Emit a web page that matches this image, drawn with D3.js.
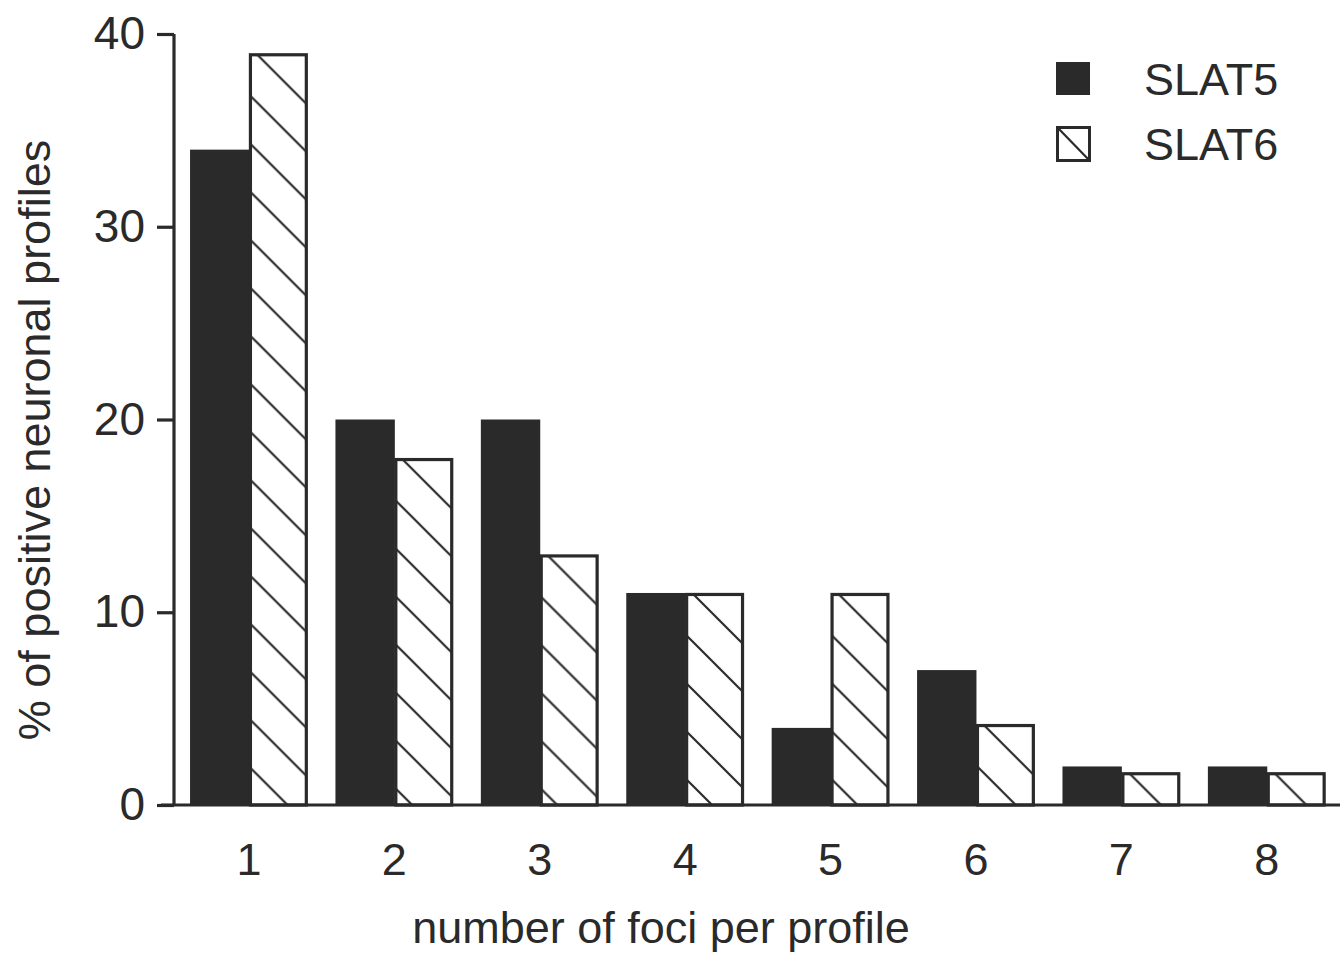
<!DOCTYPE html>
<html>
<head>
<meta charset="utf-8">
<script src="https://cdn.jsdelivr.net/npm/d3@7"></script>
<style>
body { margin: 0; background: #fff; }
text { font-family: "Liberation Sans", Arial, Helvetica, sans-serif; fill: #2a2a2a; }
</style>
</head>
<body>
<div id="chart"></div>
<script>
var categories = ["1", "2", "3", "4", "5", "6", "7", "8"];
var slat5 = [34, 20, 20, 11, 4, 7, 2, 2];
var slat6 = [39, 18, 13, 11, 11, 4.2, 1.7, 1.7];
var yTicks = [0, 10, 20, 30, 40];
var seriesNames = ["SLAT5", "SLAT6"];

var W = 1340, H = 961;
var ink = "#2a2a2a";

var svg = d3.select("#chart").append("svg")
    .attr("width", W)
    .attr("height", H);

var defs = svg.append("defs");

var x = d3.scaleBand()
    .domain(categories)
    .range([175.5, 1340.2])
    .paddingInner(0.19)
    .paddingOuter(0.1);

var sub = d3.scaleBand()
    .domain(seriesNames)
    .range([0, x.bandwidth()]);

var y = d3.scaleLinear()
    .domain([0, 40])
    .range([805, 34]);

var rows = categories.map(function(c, i) {
    return { cat: c, a: slat5[i], b: slat6[i] };
});

// solid bars
svg.selectAll("rect.s5")
    .data(rows)
    .enter().append("rect")
    .attr("class", "s5")
    .attr("x", function(d) { return x(d.cat) + sub("SLAT5"); })
    .attr("y", function(d) { return y(d.a); })
    .attr("width", sub.bandwidth() + 0.5)
    .attr("height", function(d) { return y(0) - y(d.a); })
    .attr("fill", ink);

// hatch patterns, one per bar so the lines start at its top right corner
rows.forEach(function(d, i) {
    var p = defs.append("pattern")
        .attr("id", "hatch" + i)
        .attr("patternUnits", "userSpaceOnUse")
        .attr("width", 48)
        .attr("height", 48)
        .attr("x", x(d.cat) + sub("SLAT6") + sub.bandwidth() - 4)
        .attr("y", y(d.b));
    p.append("path")
        .attr("d", "M-12,-12L60,60M-12,36L12,60M36,-12L60,12")
        .attr("stroke", ink)
        .attr("stroke-width", 2.2);
});

svg.selectAll("rect.s6")
    .data(rows)
    .enter().append("rect")
    .attr("class", "s6")
    .attr("x", function(d) { return x(d.cat) + sub("SLAT6") + 1.5; })
    .attr("y", function(d) { return y(d.b) + 1.5; })
    .attr("width", sub.bandwidth() - 3)
    .attr("height", function(d) { return y(0) - y(d.b) - 1.5; })
    .attr("fill", function(d, i) { return "url(#hatch" + i + ")"; })
    .attr("stroke", ink)
    .attr("stroke-width", 3.2);

// y axis
var yAxis = svg.append("g")
    .attr("transform", "translate(174,0)")
    .call(d3.axisLeft(y).tickValues(yTicks).tickSize(17).tickPadding(12));
yAxis.select(".domain").attr("stroke", ink).attr("stroke-width", 3.2)
    .attr("d", "M0," + y(40) + "V" + y(0));
yAxis.selectAll(".tick line").attr("stroke", ink).attr("stroke-width", 3.2);
yAxis.selectAll(".tick text")
    .attr("font-size", 46)
    .attr("fill", ink)
    .style("font-family", "Liberation Sans, Arial, sans-serif");

// x axis line
var xAxis = svg.append("g")
    .attr("transform", "translate(0," + y(0) + ")")
    .call(d3.axisBottom(x).tickSize(0).tickPadding(38));
xAxis.select(".domain").attr("stroke", ink).attr("stroke-width", 3.2)
    .attr("d", "M161,0H1340");
xAxis.selectAll(".tick text")
    .attr("font-size", 45)
    .attr("fill", ink)
    .style("font-family", "Liberation Sans, Arial, sans-serif");

// axis titles
svg.append("text")
    .attr("x", 661)
    .attr("y", 943)
    .attr("text-anchor", "middle")
    .attr("font-size", 45)
    .text("number of foci per profile");

svg.append("text")
    .attr("transform", "translate(50,440) rotate(-90)")
    .attr("text-anchor", "middle")
    .attr("font-size", 45)
    .text("% of positive neuronal profiles");

// legend
var leg = svg.append("g").attr("transform", "translate(1056,62)");
leg.append("rect")
    .attr("width", 34).attr("height", 33)
    .attr("fill", ink);
leg.append("rect")
    .attr("x", 1.5).attr("y", 65.5)
    .attr("width", 32).attr("height", 33)
    .attr("fill", "#fff")
    .attr("stroke", ink).attr("stroke-width", 3);
leg.append("line")
    .attr("x1", 2).attr("y1", 66).attr("x2", 33).attr("y2", 98)
    .attr("stroke", ink).attr("stroke-width", 2.2);
leg.selectAll("text.lg")
    .data(seriesNames)
    .enter().append("text")
    .attr("class", "lg")
    .attr("x", 88)
    .attr("y", function(d, i) { return 33 + i * 65; })
    .attr("font-size", 45)
    .text(function(d) { return d; });
</script>
</body>
</html>
